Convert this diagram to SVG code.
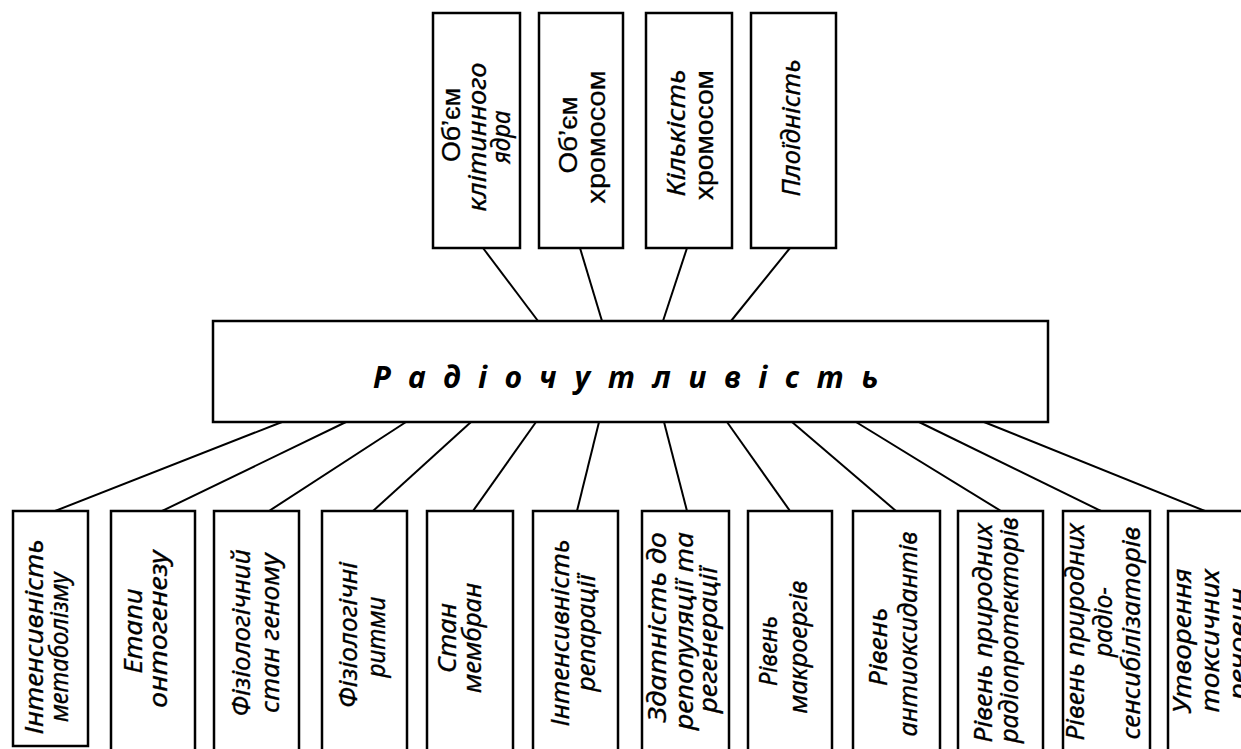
<svg xmlns="http://www.w3.org/2000/svg" width="1241" height="749" viewBox="0 0 1241 749">
<style>
.box{fill:#fff;stroke:#000;stroke-width:2.5}
.ln{stroke:#000;stroke-width:2;fill:none}
.t{font-family:"Noto Sans","Liberation Sans",sans-serif;font-size:25px;font-style:italic;fill:#000;stroke:#000;stroke-width:0.3}
.r{font-family:"Liberation Sans","Noto Sans",sans-serif;font-size:25px;font-style:normal;fill:#000;stroke:#000;stroke-width:0.3}
.c{font-family:"Noto Sans","Liberation Sans",sans-serif;font-size:30px;font-style:italic;font-weight:bold;fill:#000}
</style>
<rect width="1241" height="749" fill="#fff"/>
<g id="connectors">
<line class="ln" x1="483" y1="248" x2="538" y2="321"/>
<line class="ln" x1="580" y1="248" x2="602" y2="321"/>
<line class="ln" x1="687" y1="248" x2="663" y2="321"/>
<line class="ln" x1="790" y1="248" x2="731" y2="321"/>
<line class="ln" x1="282" y1="422" x2="55" y2="511"/>
<line class="ln" x1="346" y1="422" x2="162" y2="511"/>
<line class="ln" x1="406" y1="422" x2="269" y2="511"/>
<line class="ln" x1="471" y1="422" x2="373" y2="511"/>
<line class="ln" x1="536" y1="422" x2="473" y2="511"/>
<line class="ln" x1="599" y1="422" x2="577" y2="511"/>
<line class="ln" x1="664" y1="422" x2="687" y2="511"/>
<line class="ln" x1="727" y1="422" x2="790" y2="511"/>
<line class="ln" x1="792" y1="422" x2="896" y2="511"/>
<line class="ln" x1="856" y1="422" x2="1001" y2="511"/>
<line class="ln" x1="919" y1="422" x2="1101" y2="511"/>
<line class="ln" x1="984" y1="422" x2="1205" y2="511"/>
</g>
<g id="center">
<rect class="box" x="213" y="321" width="835" height="101"/>
<text class="c" x="373" y="388" textLength="505" lengthAdjust="spacing">Радіочутливість</text>
</g>
<g id="top1">
<rect class="box" x="433" y="13" width="87" height="235"/>
<text class="r" text-anchor="middle" transform="translate(460,125) rotate(-90)" textLength="74" lengthAdjust="spacingAndGlyphs">Об’єм</text>
<text class="t" text-anchor="middle" transform="translate(486,137) rotate(-90)" textLength="149" lengthAdjust="spacingAndGlyphs">клітинного</text>
<text class="t" text-anchor="middle" transform="translate(510,137) rotate(-90)" textLength="53" lengthAdjust="spacingAndGlyphs">ядра</text>
</g>
<g id="top2">
<rect class="box" x="539" y="13" width="84" height="235"/>
<text class="r" text-anchor="middle" transform="translate(577,135) rotate(-90)" textLength="77" lengthAdjust="spacingAndGlyphs">Об’єм</text>
<text class="r" text-anchor="middle" transform="translate(605,137) rotate(-90)" textLength="133" lengthAdjust="spacingAndGlyphs">хромосом</text>
</g>
<g id="top3">
<rect class="box" x="646" y="13" width="86" height="235"/>
<text class="t" text-anchor="middle" transform="translate(685,133) rotate(-90)" textLength="127" lengthAdjust="spacingAndGlyphs">Кількість</text>
<text class="r" text-anchor="middle" transform="translate(713,135) rotate(-90)" textLength="130" lengthAdjust="spacingAndGlyphs">хромосом</text>
</g>
<g id="top4">
<rect class="box" x="751" y="13" width="85" height="235"/>
<text class="t" text-anchor="middle" transform="translate(800,128) rotate(-90)" textLength="137" lengthAdjust="spacingAndGlyphs">Плоїдність</text>
</g>
<g id="b1">
<rect class="box" x="13" y="511" width="75" height="235"/>
<text class="t" text-anchor="middle" transform="translate(43,637) rotate(-90)" textLength="195" lengthAdjust="spacingAndGlyphs">Інтенсивність</text>
<text class="t" text-anchor="middle" transform="translate(68,647) rotate(-90)" textLength="150" lengthAdjust="spacingAndGlyphs">метаболізму</text>
</g>
<g id="b2">
<rect class="box" x="111" y="511" width="84" height="250"/>
<text class="t" text-anchor="middle" transform="translate(142,631) rotate(-90)" textLength="85" lengthAdjust="spacingAndGlyphs">Етапи</text>
<text class="t" text-anchor="middle" transform="translate(167,629) rotate(-90)" textLength="158" lengthAdjust="spacingAndGlyphs">онтогенезу</text>
</g>
<g id="b3">
<rect class="box" x="214" y="511" width="85" height="250"/>
<text class="t" text-anchor="middle" transform="translate(250,633) rotate(-90)" textLength="167" lengthAdjust="spacingAndGlyphs">Фізіологічний</text>
<text class="t" text-anchor="middle" transform="translate(279,633) rotate(-90)" textLength="160" lengthAdjust="spacingAndGlyphs">стан геному</text>
</g>
<g id="b4">
<rect class="box" x="322" y="511" width="85" height="250"/>
<text class="t" text-anchor="middle" transform="translate(357,635) rotate(-90)" textLength="146" lengthAdjust="spacingAndGlyphs">Фізіологічні</text>
<text class="t" text-anchor="middle" transform="translate(385,637) rotate(-90)" textLength="81" lengthAdjust="spacingAndGlyphs">ритми</text>
</g>
<g id="b5">
<rect class="box" x="427" y="511" width="86" height="250"/>
<text class="t" text-anchor="middle" transform="translate(456,638) rotate(-90)" textLength="70" lengthAdjust="spacingAndGlyphs">Стан</text>
<text class="t" text-anchor="middle" transform="translate(481,638) rotate(-90)" textLength="110" lengthAdjust="spacingAndGlyphs">мембран</text>
</g>
<g id="b6">
<rect class="box" x="533" y="511" width="85" height="250"/>
<text class="t" text-anchor="middle" transform="translate(569,633) rotate(-90)" textLength="187" lengthAdjust="spacingAndGlyphs">Інтенсивність</text>
<text class="t" text-anchor="middle" transform="translate(595,633) rotate(-90)" textLength="117" lengthAdjust="spacingAndGlyphs">репарації</text>
</g>
<g id="b7">
<rect class="box" x="642" y="511" width="87" height="250"/>
<text class="t" text-anchor="middle" transform="translate(666,627) rotate(-90)" textLength="190" lengthAdjust="spacingAndGlyphs">Здатність до</text>
<text class="t" text-anchor="middle" transform="translate(693,631) rotate(-90)" textLength="198" lengthAdjust="spacingAndGlyphs">репопуляції та</text>
<text class="t" text-anchor="middle" transform="translate(717,640) rotate(-90)" textLength="146" lengthAdjust="spacingAndGlyphs">регенерації</text>
</g>
<g id="b8">
<rect class="box" x="748" y="511" width="84" height="250"/>
<text class="t" text-anchor="middle" transform="translate(777,651) rotate(-90)" textLength="70" lengthAdjust="spacingAndGlyphs">Рівень</text>
<text class="t" text-anchor="middle" transform="translate(807,647) rotate(-90)" textLength="133" lengthAdjust="spacingAndGlyphs">макроергів</text>
</g>
<g id="b9">
<rect class="box" x="853" y="511" width="87" height="250"/>
<text class="t" text-anchor="middle" transform="translate(887,647) rotate(-90)" textLength="78" lengthAdjust="spacingAndGlyphs">Рівень</text>
<text class="t" text-anchor="middle" transform="translate(917,634) rotate(-90)" textLength="205" lengthAdjust="spacingAndGlyphs">антиоксидантів</text>
</g>
<g id="b10">
<rect class="box" x="958" y="511" width="85" height="250"/>
<text class="t" text-anchor="middle" transform="translate(992,633) rotate(-90)" textLength="219" lengthAdjust="spacingAndGlyphs">Рівень природних</text>
<text class="t" text-anchor="middle" transform="translate(1018,630) rotate(-90)" textLength="226" lengthAdjust="spacingAndGlyphs">радіопротекторів</text>
</g>
<g id="b11">
<rect class="box" x="1063" y="511" width="87" height="250"/>
<text class="t" text-anchor="middle" transform="translate(1084,632) rotate(-90)" textLength="217" lengthAdjust="spacingAndGlyphs">Рівень природних</text>
<text class="t" text-anchor="middle" transform="translate(1112,622) rotate(-90)" textLength="70" lengthAdjust="spacingAndGlyphs">радіо-</text>
<text class="t" text-anchor="middle" transform="translate(1140,633) rotate(-90)" textLength="213" lengthAdjust="spacingAndGlyphs">сенсибілізаторів</text>
</g>
<g id="b12">
<rect class="box" x="1168" y="511" width="90" height="250"/>
<text class="t" text-anchor="middle" transform="translate(1191,641) rotate(-90)" textLength="145" lengthAdjust="spacingAndGlyphs">Утворення</text>
<text class="t" text-anchor="middle" transform="translate(1219,641) rotate(-90)" textLength="143" lengthAdjust="spacingAndGlyphs">токсичних</text>
<text class="t" text-anchor="middle" transform="translate(1247,644) rotate(-90)" textLength="112" lengthAdjust="spacingAndGlyphs">речовин</text>
</g>
</svg>
